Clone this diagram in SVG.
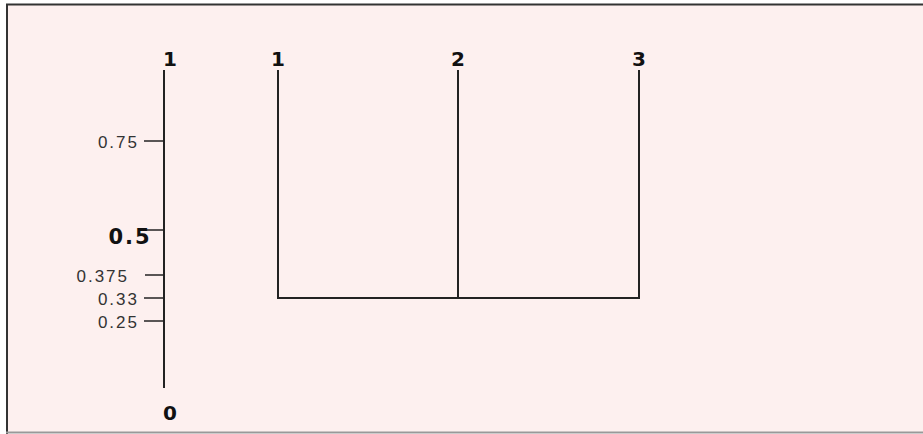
<svg xmlns="http://www.w3.org/2000/svg" width="923" height="434" viewBox="0 0 923 434">
<style>
.ln{stroke:#222;stroke-width:2;fill:none}
.tk{stroke:#222;stroke-width:1.5}
.big{font-family:"DejaVu Sans",sans-serif;font-weight:bold;font-size:20px;fill:#111;text-anchor:middle}
.sm{font-family:"Liberation Sans",Arial,sans-serif;font-size:17px;fill:#333;text-anchor:end;letter-spacing:2px}
</style>
<rect x="0" y="0" width="923" height="434" fill="#ffffff"/>
<rect x="6" y="4" width="917" height="429" fill="#fdf0ef"/>
<line x1="6" y1="4.5" x2="923" y2="4.5" stroke="#333" stroke-width="2"/>
<line x1="7" y1="4" x2="7" y2="434" stroke="#333" stroke-width="2"/>
<line x1="6" y1="432.5" x2="923" y2="432.5" stroke="#999" stroke-width="2"/>
<g id="axis">
<line class="ln" x1="164" y1="70" x2="164" y2="388"/>
<line class="tk" x1="144" y1="141" x2="164" y2="141"/>
<line class="tk" x1="143" y1="230" x2="164" y2="230"/>
<line class="tk" x1="145" y1="275" x2="164" y2="275"/>
<line class="tk" x1="144" y1="298" x2="164" y2="298"/>
<line class="tk" x1="144" y1="321" x2="164" y2="321"/>
<text class="big" x="170" y="66">1</text>
<text class="big" x="170" y="420">0</text>
<text class="sm" x="139" y="148">0.75</text>
<text class="big" x="130" y="244" style="font-size:21px;letter-spacing:2px">0.5</text>
<text class="sm" x="129" y="282">0.375</text>
<text class="sm" x="139" y="305">0.33</text>
<text class="sm" x="139" y="328">0.25</text>
</g>
<g id="node1"><text class="big" x="278" y="66">1</text></g>
<g id="node2"><text class="big" x="458" y="66">2</text></g>
<g id="node3"><text class="big" x="639" y="66">3</text></g>
<g id="connectors">
<polyline class="ln" points="278,70 278,298 639,298 639,70"/>
<line class="ln" x1="458" y1="70" x2="458" y2="298"/>
</g>
</svg>
